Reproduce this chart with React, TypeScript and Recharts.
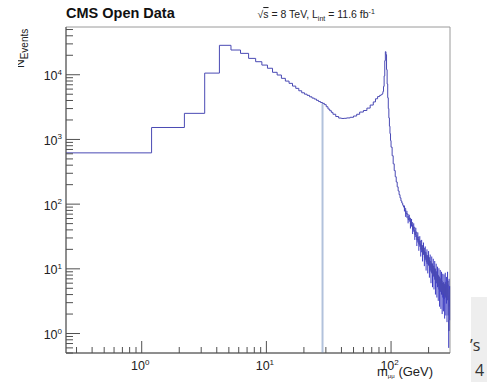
import React from 'react';
import { LineChart, Line, XAxis, YAxis, ErrorBar, ReferenceArea } from 'recharts';

const FONT = "'Liberation Sans', Arial, Helvetica, sans-serif";

const X_MIN = 0.247;
const X_MAX = 297;
const Y_MIN = 0.5;
const Y_MAX = 54700;

// Tick values
const xMajorTicks = [1, 10, 100];
const xMinorTicks = [0.3, 0.4, 0.5, 0.6, 0.7, 0.8, 0.9, 2, 3, 4, 5, 6, 7, 8, 9, 20, 30, 40, 50, 60, 70, 80, 90, 200];
const yMajorTicks = [1, 10, 100, 1000, 10000];
const yMinorTicks = [
  0.5, 0.6, 0.7, 0.8, 0.9,
  2, 3, 4, 5, 6, 7, 8, 9,
  20, 30, 40, 50, 60, 70, 80, 90,
  200, 300, 400, 500, 600, 700, 800, 900,
  2000, 3000, 4000, 5000, 6000, 7000, 8000, 9000,
  20000, 30000, 40000, 50000,
];

// Histogram: bin low edges (GeV) and event counts
const lowMassEdges = [0.2, 1.2, 2.2, 3.2, 4.2, 5.2, 6.2, 7.2, 8.2, 9.2, 10.2, 11.2, 12.2, 13.2, 14.2, 15.2, 16.2, 17.2, 18.2, 19.2, 20.2, 21.2, 22.2, 23.2, 24.2, 25.2, 26.2, 27.2, 28.2, 29.2, 30.2, 31.2, 32.2, 33.2];
const lowMassCounts = [620, 1530, 2530, 10600, 28500, 24100, 21400, 17900, 15900, 14100, 12600, 10900, 9900, 8800, 7980, 7360, 6680, 6160, 5650, 5260, 5010, 4800, 4560, 4360, 4210, 4020, 3850, 3720, 3610, 3450, 3200, 2950, 2780, 2620];

const continuumEdges = [34.2, 36, 38, 40, 42, 44, 47, 50, 53, 56, 60, 64, 68, 72, 75, 78, 81, 83];
const continuumCounts = [2450, 2260, 2140, 2110, 2120, 2150, 2200, 2300, 2450, 2650, 2800, 3050, 3400, 3800, 4250, 4600, 4800, 4900];

const zPeakEdges = [84, 85, 86, 87, 88, 89, 90, 91, 92, 93, 94, 95, 96, 97, 98, 99, 100, 102, 104, 106, 108, 110, 112, 114, 116, 118, 120, 122, 124, 126];
const zPeakCounts = [4950, 5100, 5500, 6600, 9600, 16500, 22700, 20500, 12000, 7200, 4400, 3000, 2150, 1600, 1230, 960, 760, 560, 420, 330, 265, 220, 185, 160, 140, 125, 112, 104, 96, 90];

const tailEdges = [128, 131, 134, 137, 140, 143, 146, 149, 152, 155, 158, 161, 164, 167, 170, 173, 176, 179, 182, 185, 188, 191, 194, 197, 200, 203, 206, 209, 212, 215, 218, 221, 224, 227, 230, 233, 236, 239, 242, 245, 248, 251, 254, 257, 260, 263, 266, 269, 272, 275, 278, 281, 284, 287, 290, 292, 295, 300];
const tailCounts = [86, 72, 70, 58, 61, 49, 52, 41, 44, 34, 37, 28, 31, 24, 27, 20, 23, 17, 21, 15, 18, 13, 16, 12, 15, 10.5, 13, 9, 12, 8, 11, 7.5, 10, 6.5, 9, 6, 8, 5.5, 7.5, 4.8, 7, 4.5, 6.5, 4, 6, 4.2, 5.8, 3.6, 6.2, 3.8, 5.2, 3.3, 6.5, 3.8, 1.1, 4.8, 3.5, 3.5];
const tailErrors = [9, 8.5, 8.5, 7.5, 7.5, 7, 7, 6.5, 6.5, 6, 6, 5.5, 5.5, 5, 5, 4.5, 5, 4, 4.5, 4, 4.2, 3.6, 4, 3.5, 3.8, 3.2, 3.6, 3, 3.5, 2.8, 3.3, 2.7, 3.2, 2.5, 3, 2.4, 2.8, 2.3, 2.7, 2.2, 2.6, 2.1, 2.5, 2, 2.4, 2, 2.4, 1.9, 2.5, 1.9, 2.3, 1.8, 2.5, 1.9, 0.5, 2.2, 1.9, 0];

// bin whose error bar reaches the bottom of the plot
const GAP_BIN = 28.2;

const edges = [...lowMassEdges, ...continuumEdges, ...zPeakEdges, ...tailEdges];
const counts = [...lowMassCounts, ...continuumCounts, ...zPeakCounts, ...tailCounts];
const tailStart = edges.length - tailEdges.length;

const data = edges.map((m, i) => ({
  m,
  n: counts[i],
  err: i >= tailStart ? tailErrors[i - tailStart] : undefined,
  gap: m === GAP_BIN ? [counts[i] - Y_MIN, 0] : undefined,
}));

const xTicks = [...xMinorTicks, ...xMajorTicks].sort((a, b) => a - b);
const yTicks = [...yMinorTicks, ...yMajorTicks].sort((a, b) => a - b);

const TICK_COLOR = '#505050';

const XTick = (props: any) => {
  const { x, y, payload } = props;
  const v = payload.value;
  const major = xMajorTicks.includes(v);
  const e = Math.round(Math.log10(v));
  return (
    <g>
      <line x1={x} x2={x} y1={y} y2={y - (major ? 12 : 6)} stroke={TICK_COLOR} strokeWidth={1} />
      {major && (
        <text x={x - 1.5} y={y + 17} textAnchor="middle" fontSize={12.5} fill="#222" fontFamily={FONT}>
          10<tspan dy={-5.5} fontSize={8}>{e}</tspan>
        </text>
      )}
    </g>
  );
};

const YTick = (props: any) => {
  const { x, y, payload } = props;
  const v = payload.value;
  const major = yMajorTicks.includes(v);
  const e = Math.round(Math.log10(v));
  return (
    <g>
      <line x1={x} x2={x + (major ? 14 : 7)} y1={y} y2={y} stroke={TICK_COLOR} strokeWidth={1} />
      {major && (
        <text x={x - 4} y={y + 5.5} textAnchor="end" fontSize={12.5} fill="#222" fontFamily={FONT}>
          10<tspan dy={-5.5} fontSize={8}>{e}</tspan>
        </text>
      )}
    </g>
  );
};

export default function App() {
  return (
    <div style={{ position: 'absolute', left: 0, top: 0, width: 487, height: 382, background: '#fff', overflow: 'hidden', fontFamily: FONT }}>
      <LineChart width={487} height={382} data={data} margin={{ top: 27, right: 37, bottom: 0, left: 0 }}>
        <ReferenceArea x1={X_MIN} x2={X_MAX} y1={Y_MIN} y2={Y_MAX} fill="none" stroke="#9a9a9a" strokeWidth={1} ifOverflow="visible" />
        <XAxis
          dataKey="m"
          type="number"
          scale="log"
          domain={[X_MIN, X_MAX]}
          allowDataOverflow
          ticks={xTicks}
          interval={0}
          tickLine={false}
          tickSize={0}
          tickMargin={0}
          tick={(p: any) => <XTick {...p} />}
          axisLine={{ stroke: TICK_COLOR }}
          height={29}
        />
        <YAxis
          type="number"
          scale="log"
          domain={[Y_MIN, Y_MAX]}
          allowDataOverflow
          ticks={yTicks}
          interval={0}
          tickLine={false}
          tickSize={0}
          tickMargin={0}
          tick={(p: any) => <YTick {...p} />}
          axisLine={{ stroke: TICK_COLOR }}
          width={66}
        />
        <Line
          type="stepAfter"
          dataKey="n"
          stroke="#4a4ab4"
          strokeWidth={1}
          dot={false}
          isAnimationActive={false}
        >
          <ErrorBar dataKey="err" width={0} stroke="#3a3ac2" strokeWidth={1} direction="y" isAnimationActive={false} />
          <ErrorBar dataKey="gap" width={0} stroke="#b2c2dc" strokeWidth={2} direction="y" isAnimationActive={false} />
        </Line>
      </LineChart>
      <svg width={487} height={382} style={{ position: 'absolute', left: 0, top: 0, pointerEvents: 'none' }}>
        <defs>
          <clipPath id="ytitleclip">
            <rect x={18} y={0} width={40} height={100} />
          </clipPath>
        </defs>
        <text x={66} y={18.3} fontSize={14.5} fontWeight="bold" fill="#111" fontFamily={FONT}>CMS Open Data</text>
        <text x={257.5} y={18} fontSize={10.5} fill="#222" fontFamily={FONT}>
          √<tspan style={{ textDecoration: 'overline' }}>s</tspan> = 8 TeV, L<tspan dy={2.5} fontSize={7}>int</tspan>
          <tspan dy={-2.5}> = 11.6 fb</tspan><tspan dy={-4} fontSize={7}>-1</tspan>
        </text>
        <g clipPath="url(#ytitleclip)">
          <text transform="translate(24, 68) rotate(-90)" fontSize={12} fill="#222" fontFamily={FONT}>
            N<tspan dy={3.5} fontSize={10}>Events</tspan>
          </text>
        </g>
        <text x={377} y={376} fontSize={13} fill="#222" fontFamily={FONT}>
          m<tspan dy={2} fontSize={6}>μμ</tspan><tspan dy={-2}> (GeV)</tspan>
        </text>
      </svg>
      <div style={{ position: 'absolute', left: 471, top: 297, width: 16, height: 85, background: '#eeeeee' }} />
      <div style={{ position: 'absolute', left: 470, top: 337, fontSize: 16, color: '#333', fontFamily: "'Open Sans', sans-serif", lineHeight: '16px' }}>’s</div>
      <div style={{ position: 'absolute', left: 475, top: 362, fontSize: 16, color: '#333', fontFamily: "'Open Sans', sans-serif", lineHeight: '16px' }}>4</div>
    </div>
  );
}
